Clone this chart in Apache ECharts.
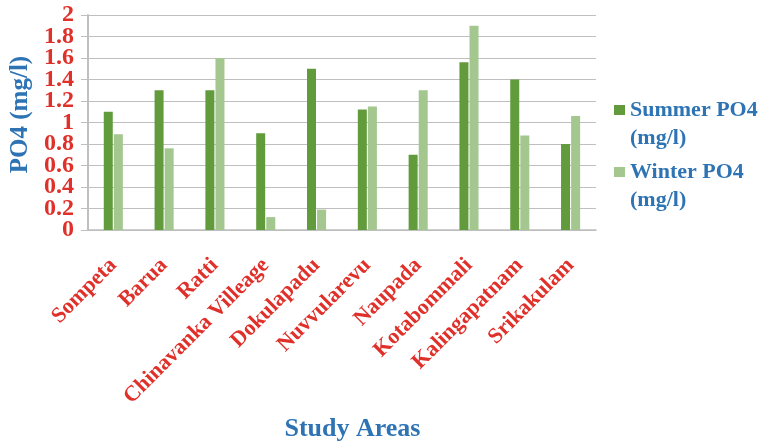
<!DOCTYPE html>
<html>
<head>
<meta charset="utf-8">
<script src="https://cdn.jsdelivr.net/npm/echarts@6/dist/echarts.min.js"></script>
<style>
html,body{margin:0;padding:0;background:#fff;}
#chart{width:762px;height:443px;}
</style>
</head>
<body>
<div id="chart"></div>
<script>
var categories = ['Sompeta','Barua','Ratti','Chinavanka Villeage','Dokulapadu','Nuvvularevu','Naupada','Kotabommali','Kalingapatnam','Srikakulam'];
var summerPO4 = [1.1, 1.3, 1.3, 0.9, 1.5, 1.12, 0.7, 1.56, 1.4, 0.8];
var winterPO4 = [0.89, 0.76, 1.6, 0.12, 0.19, 1.15, 1.3, 1.9, 0.88, 1.06];
var yTickLabels = ['0','0.2','0.4','0.6','0.8','1','1.2','1.4','1.6','1.8','2'];
var seriesNames = ['Summer PO4 (mg/l)', 'Winter PO4 (mg/l)'];
var legendLabels = ['\nSummer PO4\n(mg/l)', '\nWinter PO4\n(mg/l)'];

var FONT = '"Liberation Serif", "Times New Roman", serif';
var RED = '#e0302a';
var BLUE = '#2e74b5';
var GREY = '#bfbfbf';
var C_SUMMER = '#619b3c';
var C_WINTER = '#a3c78f';

var chart = echarts.init(document.getElementById('chart'), null, {renderer: 'canvas'});

function legendFor(i, top) {
  return {
    data: [seriesNames[i]],
    left: 614,
    top: top,
    padding: 0,
    itemWidth: 11,
    itemHeight: 10,
    itemGap: 0,
    icon: 'rect',
    formatter: function () { return legendLabels[i]; },
    textStyle: {
      fontFamily: FONT,
      fontWeight: 'bold',
      fontSize: 22,
      color: BLUE,
      lineHeight: 28
    }
  };
}

var yLabelStyle = {fontFamily: FONT, fontWeight: 'bold', fontSize: 24, color: RED};

// tick labels split over two overlaid axes (even / odd ticks) so none is auto-hidden
function tickLabel(parity) {
  return function (v) {
    var idx = Math.round(v * 5);
    return idx % 2 === parity ? yTickLabels[idx] : '';
  };
}

chart.setOption({
  animation: false,
  grid: {left: 85, right: 166, top: 15, bottom: 210.5, containLabel: false},
  legend: [legendFor(0, 68), legendFor(1, 130)],
  xAxis: {
    type: 'category',
    data: categories,
    name: 'Study Areas',
    nameLocation: 'middle',
    nameGap: 186,
    nameTextStyle: {
      fontFamily: FONT, fontWeight: 'bold', fontSize: 26, color: BLUE,
      padding: [0, 0, 0, 21]
    },
    axisLine: {show: true, lineStyle: {color: GREY, width: 1.5}},
    axisTick: {show: false},
    axisLabel: {
      rotate: 45,
      margin: 32,
      interval: 0,
      fontFamily: FONT, fontWeight: 'bold', fontSize: 22, color: RED
    }
  },
  yAxis: [
    {
      type: 'value',
      position: 'left',
      offset: 0,
      min: 0,
      max: 2,
      interval: 0.2,
      name: 'PO4 (mg/l)',
      nameLocation: 'middle',
      nameRotate: 90,
      nameGap: 52,
      nameTextStyle: {
        fontFamily: FONT, fontWeight: 'bold', fontSize: 25, color: BLUE,
        padding: [0, 0, 0, 16]
      },
      axisLine: {show: true, lineStyle: {color: GREY, width: 2}},
      axisTick: {show: true, length: 7, lineStyle: {color: GREY, width: 1}},
      splitLine: {show: true, lineStyle: {color: GREY, width: 1}},
      axisLabel: Object.assign({
        margin: 14,
        showMinLabel: true,
        showMaxLabel: true,
        formatter: tickLabel(0)
      }, yLabelStyle)
    },
    {
      type: 'value',
      position: 'left',
      offset: 0,
      min: 0,
      max: 2,
      interval: 0.2,
      axisLine: {show: false},
      axisTick: {show: false},
      splitLine: {show: false},
      axisLabel: Object.assign({
        margin: 14,
        showMinLabel: false,
        showMaxLabel: false,
        formatter: tickLabel(1)
      }, yLabelStyle)
    }
  ],
  series: [
    {
      name: seriesNames[0], type: 'bar', data: summerPO4, yAxisIndex: 0,
      barWidth: 9, barGap: '12%',
      itemStyle: {color: C_SUMMER}
    },
    {
      name: seriesNames[1], type: 'bar', data: winterPO4, yAxisIndex: 0,
      barWidth: 9, barGap: '12%',
      itemStyle: {color: C_WINTER}
    }
  ]
});
</script>
</body>
</html>
